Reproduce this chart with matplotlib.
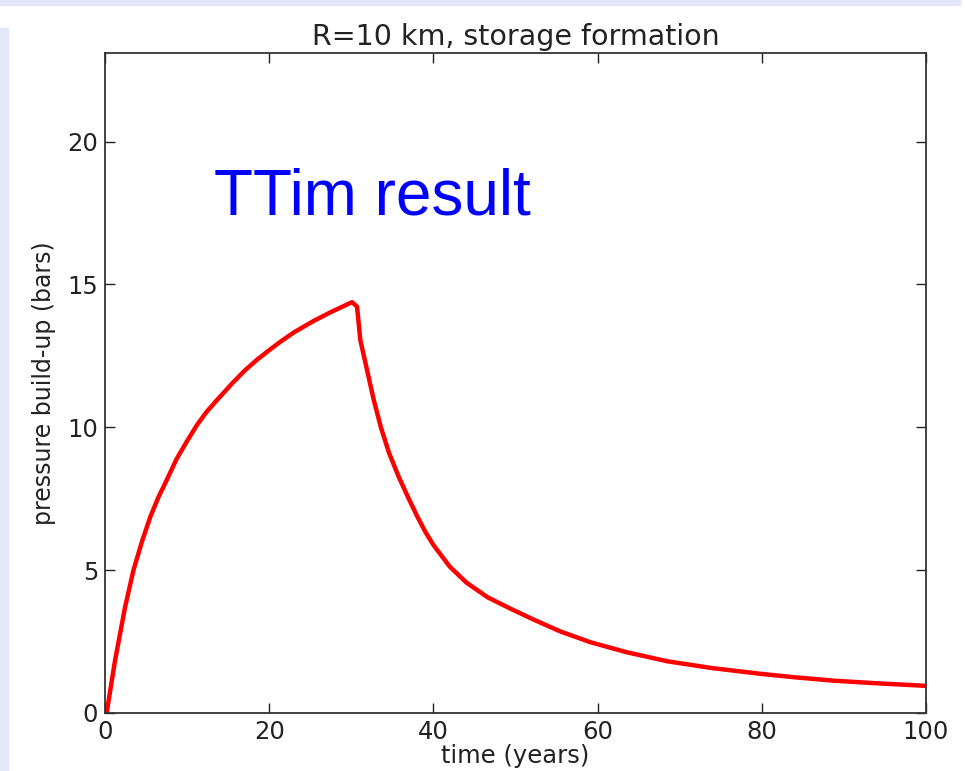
import matplotlib
matplotlib.use("Agg")
import matplotlib.pyplot as plt
from matplotlib.patches import Rectangle

# data
time_years = [0.2, 1.2, 2.44, 3.45, 4.5, 5.5, 6.5, 7.5, 8.7, 9.96, 11.2, 12.4, 13.6,
              15.6, 17.0, 18.5, 20.0, 21.3, 23.0, 25.4, 27.5, 29.5, 30.1,
              30.7, 31.1, 32.0, 32.7, 33.6, 34.6, 35.8, 37.0, 38.0, 39.0, 40.0, 42.0,
              44.0, 46.6, 49.4, 52.2, 55.5, 59.1, 63.5, 68.5, 74.0, 79.9, 84.0,
              88.8, 94.0, 100.0]
pressure_bars = [0.0, 1.8, 3.7, 4.98, 6.0, 6.85, 7.55, 8.14, 8.88, 9.5, 10.08, 10.55, 10.94,
                 11.57, 11.98, 12.36, 12.7, 12.98, 13.32, 13.72, 14.03, 14.3, 14.38,
                 14.22, 13.05, 11.9, 11.0, 10.0, 9.1, 8.25, 7.5, 6.9, 6.35, 5.88, 5.12,
                 4.57, 4.05, 3.65, 3.27, 2.85, 2.48, 2.13, 1.81, 1.57, 1.37, 1.25,
                 1.13, 1.04, 0.95]

x_ticks = [0, 20, 40, 60, 80, 100]
y_ticks = [0, 5, 10, 15, 20]

fig = plt.figure(figsize=(9.65, 7.71), dpi=100, facecolor="white")

# lavender frame of the slide
fig.patches.append(Rectangle((0, 1 - 5 / 771), 960 / 965, 5 / 771,
                             transform=fig.transFigure, color="#e6e6fa", zorder=0))
fig.patches.append(Rectangle((0, 0), 8 / 965, 1 - 28 / 771,
                             transform=fig.transFigure, color="#e6e6fa", zorder=0))

ax = fig.add_axes([105 / 965, (771 - 713) / 771, (926 - 105) / 965, (713 - 53) / 771])
ax.plot(time_years, pressure_bars, color="red", lw=3.2)
ax.set_xlim(0, 100)
ax.set_ylim(0, 23.1)
ax.set_xticks(x_ticks)
ax.set_yticks(y_ticks)
ax.tick_params(direction="in", length=7, width=1, top=True, right=True,
               labelsize=17.5, colors="#222222", pad=5)
for s in ax.spines.values():
    s.set_linewidth(1.3)
    s.set_color("#333333")

ax.set_title("R=10 km, storage formation", fontsize=20.5, color="#222222", pad=6)
ax.set_xlabel("time (years)", fontsize=17.5, color="#222222", labelpad=0)
ax.set_ylabel("pressure build-up (bars)", fontsize=17, color="#222222", labelpad=8)

ax.text(0.133, 0.756, "TTim result", transform=ax.transAxes, fontsize=46,
        color="blue", family="Liberation Sans", ha="left", va="baseline")

fig.savefig("out.png", dpi=100, facecolor=fig.get_facecolor())
